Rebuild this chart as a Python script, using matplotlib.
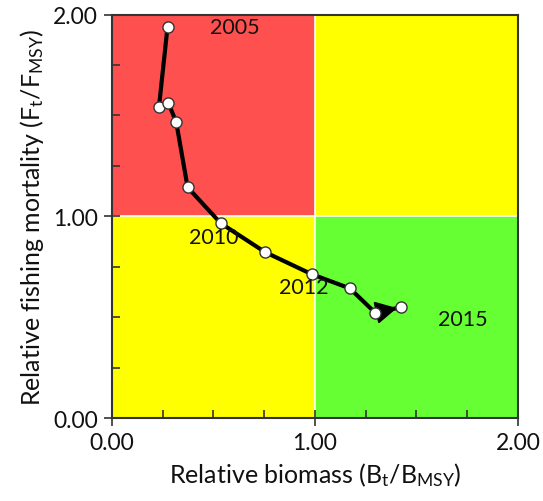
import matplotlib
matplotlib.use("Agg")
import matplotlib.pyplot as plt
from matplotlib.patches import Rectangle
from matplotlib.ticker import MultipleLocator

plt.rcParams['font.family'] = ['Lato', 'DejaVu Sans']
plt.rcParams['mathtext.fontset'] = 'custom'
plt.rcParams['mathtext.rm'] = 'Lato'
plt.rcParams['mathtext.it'] = 'Lato'

years = [2005, 2006, 2007, 2008, 2009, 2010, 2011, 2012, 2013, 2014, 2015]
biomass = [0.274, 0.232, 0.278, 0.317, 0.373, 0.536, 0.754, 0.985, 1.172, 1.297, 1.424]
fishing = [1.938, 1.543, 1.562, 1.467, 1.144, 0.966, 0.823, 0.713, 0.643, 0.522, 0.550]
label_years = {2005: (0.606, 1.94), 2010: (0.50, 0.90), 2012: (0.946, 0.65), 2015: (1.73, 0.49)}

fig = plt.figure(figsize=(5.43, 5.02), dpi=100)
ax = fig.add_axes([0.206, 0.165, 0.748, 0.804])

red, yellow, green = '#FF5050', '#FFFF00', '#66FF33'
ax.add_patch(Rectangle((0, 1), 1, 1, facecolor=red, edgecolor='none', zorder=0))
ax.add_patch(Rectangle((1, 1), 1, 1, facecolor=yellow, edgecolor='none', zorder=0))
ax.add_patch(Rectangle((0, 0), 1, 1, facecolor=yellow, edgecolor='none', zorder=0))
ax.add_patch(Rectangle((1, 0), 1, 1, facecolor=green, edgecolor='none', zorder=0))
ax.axvline(1, color='white', lw=1.2, zorder=1)
ax.axhline(1, color='white', lw=1.2, zorder=1)

ax.plot(biomass, fishing, color='black', lw=3, zorder=2)
ax.annotate('', xy=(biomass[-1], fishing[-1]), xytext=(biomass[-2], fishing[-2]),
            arrowprops=dict(arrowstyle='-|>,head_length=0.6,head_width=0.32', mutation_scale=22,
                            color='black', lw=1.5, shrinkA=0, shrinkB=3),
            zorder=3)
ax.plot(biomass, fishing, linestyle='none', marker='o', markersize=8,
        markerfacecolor='white', markeredgecolor='#333333', markeredgewidth=1, zorder=4)

for yr, (lx, ly) in label_years.items():
    ax.text(lx, ly, str(yr), fontsize=15.5, ha='center', va='center', color='#111111', zorder=5)

ax.set_xlim(0, 2)
ax.set_ylim(0, 2)
ax.xaxis.set_minor_locator(MultipleLocator(0.25))
ax.yaxis.set_minor_locator(MultipleLocator(0.25))
ax.set_xticks([0, 1, 2], ['0.00', '1.00', '2.00'])
ax.set_yticks([0, 1, 2], ['0.00', '1.00', '2.00'])
ax.tick_params(which='major', direction='inout', length=12, width=1.2, labelsize=16.5, pad=4,
               color='#333333', labelcolor='#111111')
ax.tick_params(which='minor', direction='in', length=6, width=1.2, color='#333333')
for s in ax.spines.values():
    s.set_linewidth(1.5)
    s.set_color('#333333')

ax.set_xlabel(r'Relative biomass (B$_\mathregular{t}$/B$_\mathregular{MSY}$)', fontsize=18, labelpad=5, color='#111111')
ax.set_ylabel(r'Relative fishing mortality (F$_\mathregular{t}$/F$_\mathregular{MSY}$)', fontsize=18, labelpad=5, color='#111111')

fig.savefig('out.png', dpi=100)
